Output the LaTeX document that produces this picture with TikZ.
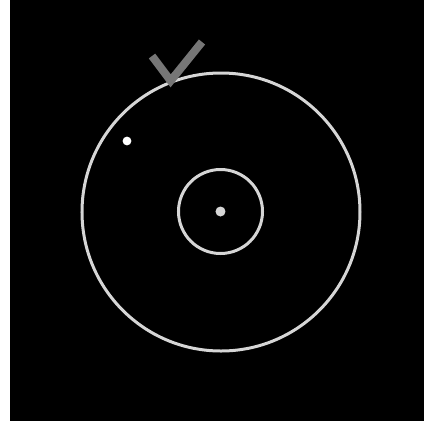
\documentclass[tikz,border=0pt]{standalone}
\usepackage{tikz}
\definecolor{ringgray}{HTML}{D6D6D6}
\definecolor{tickgray}{HTML}{767676}
\tikzset{ring/.style={circle, draw=ringgray, line width=0.75mm, inner sep=0pt},
  dot/.style={circle, fill=#1, inner sep=0pt, minimum size=2.5mm},
  tickmark/.style={draw=tickgray, line width=2mm}}

\begin{document}
\begin{tikzpicture}[x=0.25mm, y=-0.25mm]
\fill[white] (0,0) rectangle (424,423);
\fill[black] (10,0) rectangle (424,421);
\useasboundingbox (0,0) rectangle (424,423);
\node[ring, minimum size=69.5mm] (disc) at (221,212) {};
\node[ring, minimum size=21mm] (hub) at (220.5,211.5) {};
\node[dot=ringgray] (core) at (220.5,211.5) {};
\node[dot=white, minimum size=2.2mm] (spot) at (127,141) {};
\coordinate (tickl) at (152,56);
\coordinate (tickr) at (202,42);
\draw[tickmark] (tickl) -- (disc.111) -- (tickr);
\end{tikzpicture}
\end{document}
